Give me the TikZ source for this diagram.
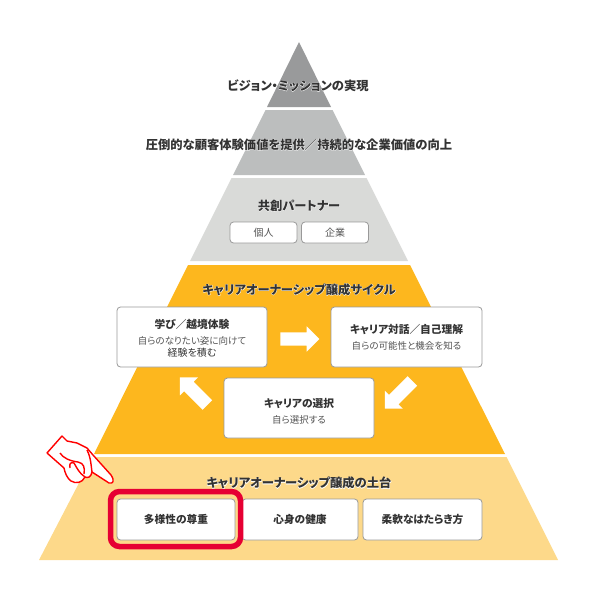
\documentclass[tikz,border=0pt]{standalone}
\usepackage{fontspec}
\setmainfont{Noto Sans CJK JP}[RawFeature=+palt]
\newfontfamily\halofont{Noto Sans CJK JP}[RawFeature=+palt,FakeBold=4,Color=FFFFFF]
\usetikzlibrary{shapes.arrows}
\definecolor{tierone}{HTML}{999A9B}
\definecolor{tiertwo}{HTML}{BCBEBE}
\definecolor{tierthree}{HTML}{D9DAD8}
\definecolor{tierfour}{HTML}{FDB71E}
\definecolor{tierfive}{HTML}{FDD98A}
\definecolor{boxline}{HTML}{999999}
\definecolor{textdark}{HTML}{333333}
\definecolor{textsoft}{HTML}{555555}
\definecolor{markred}{HTML}{E60033}
\newcommand{\halo}[1]{\rlap{\halofont\bfseries #1}#1}
\newcommand{\headfont}{\fontsize{10.7}{16}\selectfont\bfseries\color{textdark}}
\newcommand{\subfont}{\fontsize{9.5}{14.5}\selectfont\mdseries\color{textsoft}}
\tikzset{
    tier/.style={inner sep=0pt,text=textdark,font=\fontsize{12.3}{14}\selectfont\bfseries},
    card/.style={shape=rectangle,draw=boxline,fill=white,line width=0.8pt,rounded corners=3.5pt,inner sep=0pt,align=center,text=textdark},
    head/.style={font=\fontsize{10.7}{13}\selectfont\bfseries,text=textdark},
    turn/.style={shape=single arrow,fill=white,minimum height=39pt,inner xsep=0pt,inner ysep=6.5pt,single arrow head extend=6pt,single arrow tip angle=90},
}
\begin{document}
\begin{tikzpicture}[x=1pt,y=-1pt]
    \useasboundingbox (0,0) rectangle (600,600);
    % pyramid
    \fill[tierone] (299,42) -- (331,107) -- (267,107) -- cycle;
    \fill[tiertwo] (265.5,110) -- (332.5,110) -- (365,175) -- (233,175) -- cycle;
    \fill[tierthree] (231.5,178) -- (366.5,178) -- (408,261) -- (190,261) -- cycle;
    \fill[tierfour] (188,265) -- (410,265) -- (505,454) -- (94,454) -- cycle;
    \fill[tierfive] (92.5,457) -- (506.5,457) -- (558,560) -- (39,560) -- cycle;

    \node[tier] (vision) at (298,85.5) {\halo{ビジョン・ミッションの実現}};
    \node[tier] (value) at (299,144.5) {\halo{圧倒的な顧客体験価値を提供／持続的な企業価値の向上}};
    \node[tier] (partner) at (299,205.5) {\halo{共創パートナー}};
    \node[tier] (cycle) at (299,289.5) {\halo{キャリアオーナーシップ醸成サイクル}};
    \node[tier] (base) at (299,483) {\halo{キャリアオーナーシップ醸成の土台}};

    % partner cards
    \node[card,minimum width=67pt,minimum height=21pt,font=\fontsize{10}{12}\selectfont,text=textsoft] (kojin) at (263.5,232.5) {個人};
    \node[card,minimum width=67pt,minimum height=21pt,font=\fontsize{10}{12}\selectfont,text=textsoft] (kigyo) at (335,232.5) {企業};

    % cycle cards
    \node[card,minimum width=150pt,minimum height=60pt] (learn) at (192,337) {\headfont\rule{0pt}{12.3pt}学び／越境体験\\[4pt]
        \subfont 自らのなりたい姿に向けて\\経験を積む};
    \node[card,minimum width=151pt,minimum height=60pt] (talk) at (406.5,337) {\headfont キャリア対話／自己理解\\[4pt]
        \subfont 自らの可能性と機会を知る};
    \node[card,minimum width=150pt,minimum height=60pt] (choice) at (299,408) {\headfont\rule{0pt}{15.3pt}キャリアの選択\\[4pt]
        \subfont 自ら選択する};

    \node[turn] (turn_a) at (296.5,339) {};
    \node[turn,rotate=-135] (turn_b) at (401,392.4) {};
    \node[turn,rotate=135] (turn_c) at (196,393.6) {};

    % base cards
    \node[card,head,minimum width=116pt,minimum height=41pt] (care) at (300,519.5) {心身の健康};
    \node[card,head,minimum width=119pt,minimum height=41pt] (flex) at (422.5,519.5) {柔軟なはたらき方};
    \node[card,head,minimum width=118pt,minimum height=41pt] (respect) at (176,519.5) {多様性の尊重};
    \node[shape=rectangle,draw=markred,line width=5.5pt,rounded corners=9pt,minimum width=130pt,minimum height=55pt] (mark) at (175.5,519) {};

    % hand
    \draw[draw=red,fill=white,line width=1.4pt,line join=round] (47,453) -- (62,436) -- (67,441) -- (77,443) -- (87,448) -- (93,455) -- (111,475) .. controls (115,481) and (113,484) .. (109,483) -- (92,472) .. controls (91,478) and (87,478) .. (85,477) .. controls (82,483) and (76,484) .. (71,481) .. controls (67,478) and (65,473) .. (64,468) -- cycle;
    \draw[draw=red,line width=1.4pt] (60,453) .. controls (63,458) and (70,461) .. (78,462) .. controls (84,463) and (85,468) .. (84,474);
    \draw[draw=red,line width=1.4pt] (70,468) .. controls (69,463) and (71,462) .. (74,463) .. controls (77,468) and (79,473) .. (85,477);
    \draw[draw=red,line width=1.4pt] (87,450) .. controls (91,458) and (91,465) .. (92,472);
\end{tikzpicture}
\end{document}
